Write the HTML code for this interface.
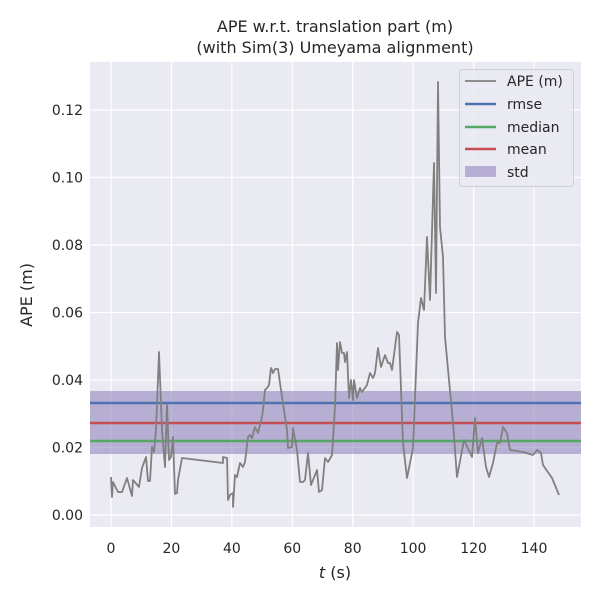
<!DOCTYPE html><html><head><style>body{margin:0;background:#fff}svg{font-family:"DejaVu Sans","Liberation Sans",sans-serif}</style></head><body>
<svg width="600" height="600" viewBox="0 0 600 600">
<rect x="90" y="62" width="491" height="465" fill="#eaeaf2"/>
<g stroke="#fff" stroke-width="1.2">
<line x1="111" y1="62" x2="111" y2="527"/><line x1="171.4" y1="62" x2="171.4" y2="527"/><line x1="231.9" y1="62" x2="231.9" y2="527"/><line x1="292.3" y1="62" x2="292.3" y2="527"/><line x1="352.7" y1="62" x2="352.7" y2="527"/><line x1="413.1" y1="62" x2="413.1" y2="527"/><line x1="473.6" y1="62" x2="473.6" y2="527"/><line x1="534" y1="62" x2="534" y2="527"/>
<line x1="90" y1="515" x2="581" y2="515"/><line x1="90" y1="447.5" x2="581" y2="447.5"/><line x1="90" y1="380" x2="581" y2="380"/><line x1="90" y1="312.5" x2="581" y2="312.5"/><line x1="90" y1="245" x2="581" y2="245"/><line x1="90" y1="177.5" x2="581" y2="177.5"/><line x1="90" y1="110" x2="581" y2="110"/>
</g>
<rect x="90" y="391" width="491" height="63" fill="#8172b3" fill-opacity="0.5"/>
<line x1="90" y1="403" x2="581" y2="403" stroke="#4c72b0" stroke-width="2.5"/>
<line x1="90" y1="423" x2="581" y2="423" stroke="#c44e52" stroke-width="2.5"/>
<line x1="90" y1="441" x2="581" y2="441" stroke="#55a868" stroke-width="2.5"/>
<polyline fill="none" stroke="#808080" stroke-width="1.8" stroke-linejoin="round" points="111,477 112,497 113,482 118,492 122,492 127,478 132,496 133,480 139,487 142,468 146,457 148,481 150,481 152,447 154,452 156,430 159,352 162,430 165,467 167,404 169,460 171,457 173,437 175,494 177,493 178,480 182,458 223,463 223,457 227,458 228,500 230,495 233,493 233,507 235,475 237,477 240,463 243,467 245,462 248,437 250,435 252,438 255,427 258,433 262,417 263,410 265,390 267,388 269,385 271,368 272,370 273,373 275,369 278,369 282,397 287,430 288,448 292,447 293,428 297,450 300,482 303,482 305,480 308,453 311,485 317,470 319,492 322,490 325,458 328,462 332,455 335,407 337,343 338,370 340,342 342,353 344,353 345,362 347,352 349,398 351,380 353,400 354,380 357,398 360,388 362,392 367,385 370,373 373,378 375,373 378,348 381,367 385,355 388,363 390,363 392,370 397,332 399,335 403,443 407,478 413,448 418,323 421,298 424,310 427,237 430,300 434,163 436,293 438,82 440,227 443,257 445,337 453,423 457,477 464,440 472,457 475,418 478,453 482,438 486,467 489,477 493,463 497,443 500,443 503,427 507,433 510,450 523,452 533,455 537,450 541,453 543,465 552,478 559,495"/>
<g font-size="14" fill="#262626" text-anchor="middle">
<text x="111" y="553">0</text><text x="171.4" y="553">20</text><text x="231.9" y="553">40</text><text x="292.3" y="553">60</text><text x="352.7" y="553">80</text><text x="413.1" y="553">100</text><text x="473.6" y="553">120</text><text x="534" y="553">140</text>
</g>
<g font-size="14" fill="#262626" text-anchor="end">
<text x="83" y="520">0.00</text><text x="83" y="452.5">0.02</text><text x="83" y="385">0.04</text><text x="83" y="317.5">0.06</text><text x="83" y="250">0.08</text><text x="83" y="182.5">0.10</text><text x="83" y="115">0.12</text>
</g>
<text x="335" y="578" font-size="16" fill="#262626" text-anchor="middle"><tspan font-style="italic">t</tspan> (s)</text>
<text transform="translate(32,295) rotate(-90)" font-size="16" fill="#262626" text-anchor="middle">APE (m)</text>
<text x="335" y="32" font-size="16" fill="#262626" text-anchor="middle">APE w.r.t. translation part (m)</text>
<text x="335" y="53" font-size="16" fill="#262626" text-anchor="middle">(with Sim(3) Umeyama alignment)</text>
<rect x="459.5" y="69.5" width="114" height="117" rx="3" fill="#eaeaf2" fill-opacity="0.8" stroke="#d0d0d8"/>
<g stroke-width="2.5"><line x1="465" y1="81" x2="496" y2="81" stroke="#808080" stroke-width="1.8"/><line x1="465" y1="104" x2="496" y2="104" stroke="#4c72b0"/><line x1="465" y1="127" x2="496" y2="127" stroke="#55a868"/><line x1="465" y1="149" x2="496" y2="149" stroke="#c44e52"/></g>
<rect x="465" y="166" width="31" height="11" fill="#8172b3" fill-opacity="0.5"/>
<g font-size="14" fill="#262626"><text x="507" y="86">APE (m)</text><text x="507" y="109">rmse</text><text x="507" y="132">median</text><text x="507" y="154">mean</text><text x="507" y="177">std</text></g>
</svg></body></html>
